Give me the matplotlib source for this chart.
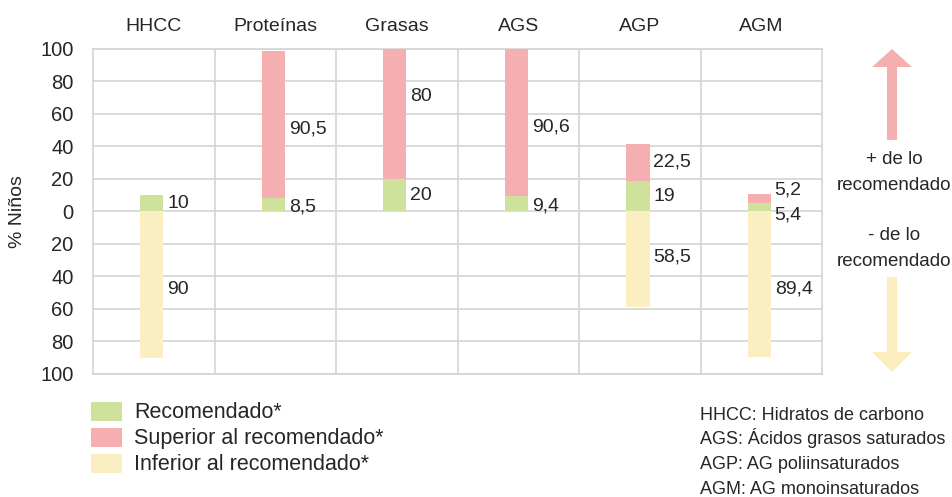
import matplotlib.pyplot as plt
import matplotlib.patches as mpatches
import numpy as np

plt.rcParams['font.family'] = ['Liberation Sans', 'DejaVu Sans']

categories = ['HHCC', 'Proteínas', 'Grasas', 'AGS', 'AGP', 'AGM']
recomendado = [10, 8.5, 20, 9.4, 19, 5.4]
superior = [0, 90.5, 80, 90.6, 22.5, 5.2]
inferior = [90, 0, 0, 0, 58.5, 89.4]

rec_txt = ['10', '8,5', '20', '9,4', '19', '5,4']
sup_txt = ['', '90,5', '80', '90,6', '22,5', '5,2']
inf_txt = ['90', '', '', '', '58,5', '89,4']

c_green = '#cee29b'
c_red = '#f6afb0'
c_yellow = '#fbefc2'
c_text = '#262626'
c_grid = '#d4d4d4'

fig = plt.figure(figsize=(9.52, 4.97), dpi=100)
ax = fig.add_axes([0.0977, 0.2475, 0.7658, 0.654])

x = np.arange(len(categories))
xb = x - 0.015
w = 0.19
rec = np.array(recomendado)
sup = np.array(superior)
inf = np.array(inferior)

ax.bar(xb, rec, w, color=c_green, zorder=3)
ax.bar(xb, sup, w, bottom=rec, color=c_red, zorder=3)
ax.bar(xb, -inf, w, color=c_yellow, zorder=3)

# posiciones de las etiquetas (ajustadas a mano donde se solapan)
tx = xb + w / 2 + 0.03
for i in range(len(categories)):
    ry = rec[i] / 2 if i != 5 else -2
    if i == 1 or i == 3:
        ry = rec[i] / 2 - 1.5
    ax.text(tx[i], ry, rec_txt[i], fontsize=14, color=c_text, va='center', ha='left')
    if sup_txt[i]:
        sy = rec[i] + sup[i] / 2
        if i == 2:
            sy = 71
        if i in (1, 3):
            sy -= 3
        if i == 5:
            sy = 13.5
        ax.text(tx[i], sy, sup_txt[i], fontsize=14, color=c_text, va='center', ha='left')
    if inf_txt[i]:
        iy = -inf[i] / 2 - 3 if i != 4 else -inf[i] / 2 + 1
        ax.text(tx[i], iy, inf_txt[i], fontsize=14, color=c_text, va='center', ha='left')

ax.set_xlim(-0.5, len(categories) - 0.5)
ax.set_ylim(-100, 100)
ticks = np.arange(-100, 101, 20)
ax.set_yticks(ticks)
ax.set_yticklabels([str(abs(t)) for t in ticks], fontsize=14.5, color=c_text)
ax.set_xticks(x)
ax.set_xticklabels(categories, fontsize=14, color=c_text)
ax.xaxis.tick_top()
ax.tick_params(axis='both', length=0)
ax.tick_params(axis='x', pad=10)
ax.tick_params(axis='y', pad=14)
ax.set_xticks(x[:-1] + 0.5, minor=True)
ax.grid(axis='y', color=c_grid, linewidth=1.2, zorder=0)
ax.grid(axis='x', which='minor', color=c_grid, linewidth=1.2, zorder=0)
ax.tick_params(axis='x', which='minor', length=0)
for s in ax.spines.values():
    s.set_color(c_grid)
    s.set_linewidth(1.2)
ax.set_ylabel('% Niños', fontsize=14, color=c_text, labelpad=10)

# flechas laterales en coordenadas de pixel
side = fig.add_axes([0, 0, 1, 1], zorder=-1)
side.set_xlim(0, 952)
side.set_ylim(497, 0)
side.axis('off')
side.add_patch(mpatches.Polygon([[887, 140], [897, 140], [897, 67], [912, 67],
                                 [892, 49], [872, 67], [887, 67]],
                                closed=True, color=c_red, lw=0))
side.add_patch(mpatches.Polygon([[887, 277], [897, 277], [897, 352], [912, 352],
                                 [892, 372], [872, 352], [887, 352]],
                                closed=True, color=c_yellow, lw=0))
for yy, t in [(159, '+ de lo'), (186, 'recomendado'), (236, '- de lo'), (262, 'recomendado')]:
    side.text(894, yy, t, fontsize=13.5, color=c_text, ha='center', va='center')

# leyenda
leg_labels = ['Recomendado*', 'Superior al recomendado*', 'Inferior al recomendado*']
leg_colors = [c_green, c_red, c_yellow]
for k, (lab, col) in enumerate(zip(leg_labels, leg_colors)):
    y0 = 402 + k * 26
    side.add_patch(mpatches.Rectangle((91, y0), 31, 19, color=col, lw=0))
    side.text(134, y0 + 16, lab, fontsize=15.5, color=c_text, ha='left', va='baseline')

notes = ['HHCC: Hidratos de carbono', 'AGS: Ácidos grasos saturados',
         'AGP: AG poliinsaturados', 'AGM: AG monoinsaturados']
for k, t in enumerate(notes):
    side.text(700, 420 + k * 24.5, t, fontsize=13, color=c_text, ha='left', va='baseline')

fig.savefig('out.png', dpi=100)
